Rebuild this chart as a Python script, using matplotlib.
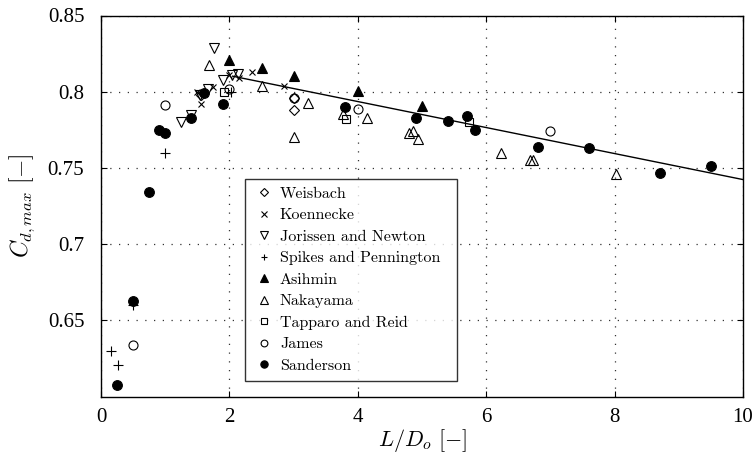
import matplotlib
matplotlib.use("Agg")
import matplotlib.pyplot as plt

plt.rcParams['mathtext.fontset'] = 'cm'
plt.rcParams['font.family'] = ['Liberation Serif', 'DejaVu Serif']
plt.rcParams['axes.unicode_minus'] = False

weisbach_x = [1.55, 3.0, 3.0]
weisbach_y = [0.798, 0.796, 0.788]

koennecke_x = [1.5, 1.55, 1.75, 2.0, 2.15, 2.35, 2.85]
koennecke_y = [0.800, 0.792, 0.803, 0.811, 0.809, 0.813, 0.804]

jorissen_x = [1.25, 1.4, 1.54, 1.67, 1.76, 1.9, 2.04, 2.14]
jorissen_y = [0.780, 0.785, 0.798, 0.802, 0.829, 0.808, 0.811, 0.8115]

spikes_x = [0.15, 0.27, 0.5, 1.0, 2.02]
spikes_y = [0.630, 0.621, 0.660, 0.760, 0.800]

asihmin_x = [2.0, 2.5, 3.0, 4.0, 5.0]
asihmin_y = [0.8205, 0.8155, 0.8105, 0.8005, 0.7905]

nakayama_x = [1.68, 2.5, 3.0, 3.22, 3.77, 4.15, 4.8, 4.86, 4.93, 6.23, 6.68, 6.73, 8.02]
nakayama_y = [0.8175, 0.8035, 0.770, 0.7925, 0.7855, 0.7828, 0.7732, 0.7742, 0.7688, 0.760, 0.7555, 0.755, 0.7458]

tapparo_x = [1.92, 3.82, 5.73]
tapparo_y = [0.800, 0.782, 0.780]

james_x = [0.5, 1.0, 2.0, 3.0, 4.0, 7.0]
james_y = [0.634, 0.791, 0.802, 0.796, 0.789, 0.774]

sanderson_x = [0.25, 0.5, 0.75, 0.9, 1.0, 1.4, 1.6, 1.9, 3.8, 4.9, 5.4, 5.7, 5.83, 6.8, 7.6, 8.7, 9.5]
sanderson_y = [0.608, 0.663, 0.734, 0.775, 0.773, 0.783, 0.799, 0.792, 0.790, 0.783, 0.781,
               0.784, 0.775, 0.764, 0.763, 0.747, 0.751]

fit_x = [2.05, 10.0]
fit_y = [0.8102, 0.7424]

fig = plt.figure(figsize=(7.55, 4.59), dpi=100)
ax = fig.add_axes([101/755, 1 - 396.7/459, 642/755, 381.2/459])

ax.plot(fit_x, fit_y, color='black', lw=1.0, zorder=2)

mew = 0.8
common = dict(linestyle='none', markeredgecolor='black', markeredgewidth=mew, zorder=3)
ax.plot(weisbach_x, weisbach_y, marker='D', ms=5.0, mfc='none', label='Weisbach', **common)
ax.plot(koennecke_x, koennecke_y, marker='x', ms=5.0, color='black', label='Koennecke', **common)
ax.plot(jorissen_x, jorissen_y, marker='v', ms=7.5, mfc='none', label='Jorissen and Newton', **common)
ax.plot(spikes_x, spikes_y, marker='+', ms=6.5, color='black', label='Spikes and Pennington', **common)
ax.plot(asihmin_x, asihmin_y, marker='^', ms=7.5, mfc='black', label='Asihmin', **common)
ax.plot(nakayama_x, nakayama_y, marker='^', ms=7.5, mfc='none', label='Nakayama', **common)
ax.plot(tapparo_x, tapparo_y, marker='s', ms=6.0, mfc='none', label='Tapparo and Reid', **common)
ax.plot(james_x, james_y, marker='o', ms=6.5, mfc='none', label='James', **common)
ax.plot(sanderson_x, sanderson_y, marker='o', ms=7.0, mfc='black', label='Sanderson', **common)

ax.set_xlim(0, 10)
ax.set_ylim(0.6, 0.85)
ax.set_xticks([0, 2, 4, 6, 8, 10])
ax.set_yticks([0.65, 0.7, 0.75, 0.8, 0.85])
ax.set_yticklabels(['0.65', '0.7', '0.75', '0.8', '0.85'])
ax.tick_params(direction='in', top=True, right=True, length=4, width=0.8, labelsize=15)
ax.tick_params(axis='y', pad=12)
ax.tick_params(axis='x', pad=8)
ax.grid(True, color='#333333', linestyle=(0, (1, 6)), linewidth=0.9)
ax.set_axisbelow(True)
for s in ax.spines.values():
    s.set_linewidth(1.0)

ax.set_xlabel(r'$L/D_o\ [-]$', fontsize=16, labelpad=0)
ax.set_ylabel(r'$C_{d,max}\ [-]$', fontsize=17, labelpad=8)

leg = ax.legend(loc='lower left', bbox_to_anchor=(0.224, 0.042, 0.33, 0.528),
                mode='expand', frameon=True, fancybox=False, edgecolor='black',
                prop={'family': 'cmr10', 'size': 11.5}, markerscale=0.75,
                handlelength=1.4, handletextpad=0.3, labelspacing=0.455,
                borderaxespad=0, borderpad=0.5)
leg.get_frame().set_linewidth(1.0)

fig.savefig('out.png', dpi=100)
